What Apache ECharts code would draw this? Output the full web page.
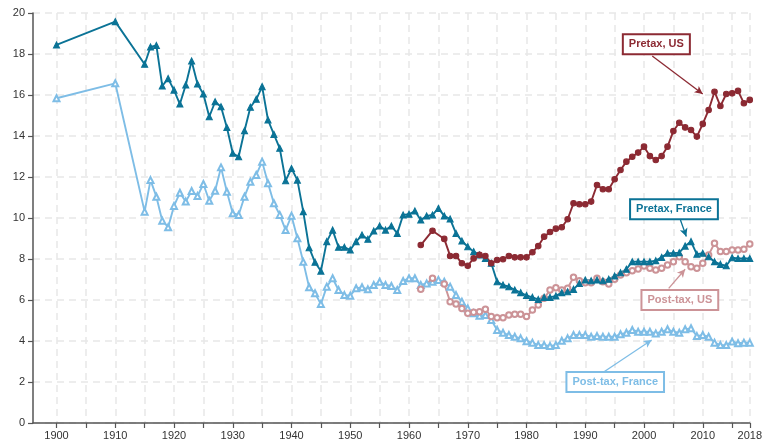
<!DOCTYPE html>
<html lang="en">
<head>
  <meta charset="UTF-8">
  <title>Top 1% income share, France vs US</title>
  <script src="https://cdn.jsdelivr.net/npm/echarts@6/dist/echarts.min.js"></script>
  <style>
    html, body { margin: 0; padding: 0; background: #fff; }
    #chart { width: 765px; height: 447px; }
  </style>
</head>
<body>
  <div id="chart"></div>
  <script>
    // years: France has 1900, 1910 then yearly from 1915; US from 1962 (every 2 yrs until 1966)
    function range(a, b) { var r = []; for (var y = a; y <= b; y++) r.push(y); return r }
    var frYears = [1900, 1910].concat(range(1915, 2018))
    var usYears = [1962, 1964, 1966].concat(range(1967, 2018))

    var frPretax = [18.44, 19.58,
      17.50, 18.34, 18.42, 16.44, 16.80,
      16.24, 15.56, 16.49, 17.66, 16.54, 16.05, 14.94, 15.67, 15.43, 14.42,
      13.16, 12.99, 14.26, 15.40, 15.79, 16.41, 14.78, 14.08, 13.40, 11.82,
      12.42, 11.85, 10.31, 8.55, 7.84, 7.41, 8.85, 9.41, 8.57, 8.57,
      8.44, 8.85, 9.17, 8.96, 9.37, 9.61, 9.41, 9.61, 9.25, 10.15,
      10.18, 10.34, 9.90, 10.10, 10.15, 10.47, 10.10, 9.95, 9.25, 8.88,
      8.60, 8.36, 8.20, 8.03, 7.79, 6.89, 6.73, 6.65, 6.49, 6.36,
      6.22, 6.13, 6.03, 6.13, 6.13, 6.20, 6.36, 6.40, 6.52, 6.81,
      6.98, 6.94, 6.98, 6.94, 7.01, 7.17, 7.33, 7.50, 7.87, 7.87,
      7.87, 7.87, 7.92, 8.08, 8.28, 8.28, 8.31, 8.63, 8.85, 8.23,
      8.28, 8.11, 7.87, 7.74, 7.67, 8.06, 8.03, 8.03, 8.03]

    var frPosttax = [15.84, 16.57,
      10.31, 11.85, 11.04, 9.87, 9.55,
      10.59, 11.23, 10.80, 11.32, 11.07, 11.66, 10.84, 11.33, 12.47, 11.28,
      10.23, 10.15, 11.04, 11.77, 12.10, 12.75, 11.69, 10.72, 10.15, 9.41,
      10.11, 9.01, 7.86, 6.62, 6.33, 5.80, 6.65, 7.06, 6.49, 6.24,
      6.21, 6.57, 6.62, 6.52, 6.73, 6.89, 6.73, 6.68, 6.49, 6.93,
      7.06, 7.06, 6.73, 6.81, 6.89, 6.98, 6.89, 6.65, 6.24, 5.92,
      5.59, 5.35, 5.23, 5.27, 5.02, 4.54, 4.40, 4.29, 4.21, 4.13,
      3.99, 3.92, 3.80, 3.80, 3.76, 3.80, 4.01, 4.13, 4.29, 4.29,
      4.29, 4.21, 4.24, 4.21, 4.21, 4.21, 4.33, 4.40, 4.54, 4.45,
      4.45, 4.45, 4.37, 4.45, 4.57, 4.45, 4.40, 4.57, 4.62, 4.24,
      4.29, 4.21, 3.92, 3.80, 3.80, 3.97, 3.89, 3.92, 3.92]

    var usPretax = [8.68, 9.38, 8.98,
      8.15, 8.15, 7.79,
      7.67, 8.03, 8.20, 8.15, 7.79, 7.95, 7.99, 8.15, 8.08, 8.08,
      8.08, 8.33, 8.63, 9.09, 9.32, 9.48, 9.55, 9.94, 10.72, 10.67,
      10.67, 10.80, 11.61, 11.40, 11.40, 11.89, 12.34, 12.75, 12.99, 13.19,
      13.48, 13.02, 12.83, 13.02, 13.48, 14.24, 14.65, 14.42, 14.29, 13.97,
      14.59, 15.27, 16.16, 15.46, 16.05, 16.08, 16.20, 15.60, 15.76]

    var usPosttax = [6.52, 7.06, 6.78,
      5.92, 5.80, 5.59,
      5.35, 5.40, 5.43, 5.55, 5.19, 5.14, 5.14, 5.27, 5.30, 5.30,
      5.19, 5.51, 5.76, 6.08, 6.49, 6.60, 6.49, 6.57, 7.11, 6.94,
      6.84, 6.84, 7.06, 6.89, 6.78, 7.01, 7.22, 7.33, 7.43, 7.51,
      7.66, 7.55, 7.46, 7.55, 7.71, 7.87, 8.11, 7.87, 7.62, 7.55,
      7.79, 8.20, 8.77, 8.36, 8.36, 8.44, 8.44, 8.47, 8.73]

    var xTicks = [1900, 1905, 1910, 1915, 1920, 1925, 1930, 1935, 1940, 1945, 1950, 1955,
      1960, 1965, 1970, 1975, 1980, 1985, 1990, 1995, 2000, 2005, 2010, 2015, 2018]
    var xLabels = [1900, 1910, 1920, 1930, 1940, 1950, 1960, 1970, 1980, 1990, 2000, 2010, 2018]

    // callout boxes: label centre, arrow from -> to (data coords)
    var notes = [
      { text: 'Pretax, US', box: [2002.1, 18.48], from: [2001.4, 17.9], to: [2010.0, 16.05] },
      { text: 'Pretax, France', box: [2005.1, 10.43], from: [2006.2, 9.9], to: [2007.2, 9.1] },
      { text: 'Post-tax, US', box: [2006.1, 6.0], from: [2004.2, 6.57], to: [2007.0, 7.5] },
      { text: 'Post-tax, France', box: [1995.1, 2.0], from: [1993.2, 2.5], to: [2001.3, 4.05] }
    ]

    var colors = ['#8c2a33', '#0b7396', '#cc9397', '#7ebde6']
    var font = 'Liberation Sans, Arial, sans-serif'

    function zip(xs, ys) { return xs.map(function (x, i) { return [x, ys[i]] }) }

    function makeSeries(name, data, color, symbol, note) {
      return {
        name: name,
        type: 'line',
        data: data,
        symbol: symbol,
        symbolSize: symbol.indexOf('ircle') > -1 ? 5.5 : 6,
        lineStyle: { color: color, width: 1.9 },
        itemStyle: { color: color, borderColor: color, borderWidth: 1.1 },
        emphasis: { disabled: true },
        markLine: {
          silent: true,
          symbol: ['none', 'arrow'],
          symbolSize: [6, 8],
          label: { show: false },
          lineStyle: { color: color, width: 1.3, type: 'solid' },
          data: [[{ coord: note.from }, { coord: note.to }]]
        },
        markPoint: {
          silent: true,
          symbol: 'rect',
          symbolSize: 0,
          data: [{ coord: note.box }],
          label: {
            show: true,
            position: 'inside',
            formatter: note.text,
            color: color,
            fontFamily: font,
            fontWeight: 'bold',
            fontSize: 11,
            backgroundColor: '#fff',
            borderColor: color,
            borderWidth: 2,
            padding: [4, 5, 3, 5]
          }
        }
      }
    }

    var chart = echarts.init(document.getElementById('chart'))
    chart.setOption({
      animation: false,
      backgroundColor: '#fff',
      grid: { left: 33, right: 13, top: 13, bottom: 24 },
      xAxis: {
        type: 'value',
        min: 1896,
        max: 2018,
        axisLine: { show: true, onZero: false, lineStyle: { color: '#555', width: 1.5 } },
        axisTick: { show: true, length: 5, customValues: xTicks, lineStyle: { color: '#555', width: 1.2 } },
        axisLabel: {
          customValues: xLabels,
          formatter: function (v) { return String(v) },
          color: '#333', fontSize: 11, margin: 7, fontFamily: font
        },
        splitLine: { show: true, lineStyle: { color: '#e8e8e8', width: 1.5, type: [7, 5] } }
      },
      yAxis: {
        type: 'value',
        min: 0,
        max: 20,
        interval: 2,
        axisLine: { show: true, lineStyle: { color: '#555', width: 1.5 } },
        axisTick: { show: true, length: 5, lineStyle: { color: '#555', width: 1.2 } },
        axisLabel: { color: '#333', fontSize: 11, margin: 8, fontFamily: font },
        splitLine: { show: true, lineStyle: { color: '#e8e8e8', width: 1.5, type: [7, 5] } }
      },
      series: [
        makeSeries('Post-tax, France', zip(frYears, frPosttax), colors[3], 'emptyTriangle', notes[3]),
        makeSeries('Post-tax, US', zip(usYears, usPosttax), colors[2], 'emptyCircle', notes[2]),
        makeSeries('Pretax, France', zip(frYears, frPretax), colors[1], 'triangle', notes[1]),
        makeSeries('Pretax, US', zip(usYears, usPretax), colors[0], 'circle', notes[0])
      ]
    })
  </script>
</body>
</html>
